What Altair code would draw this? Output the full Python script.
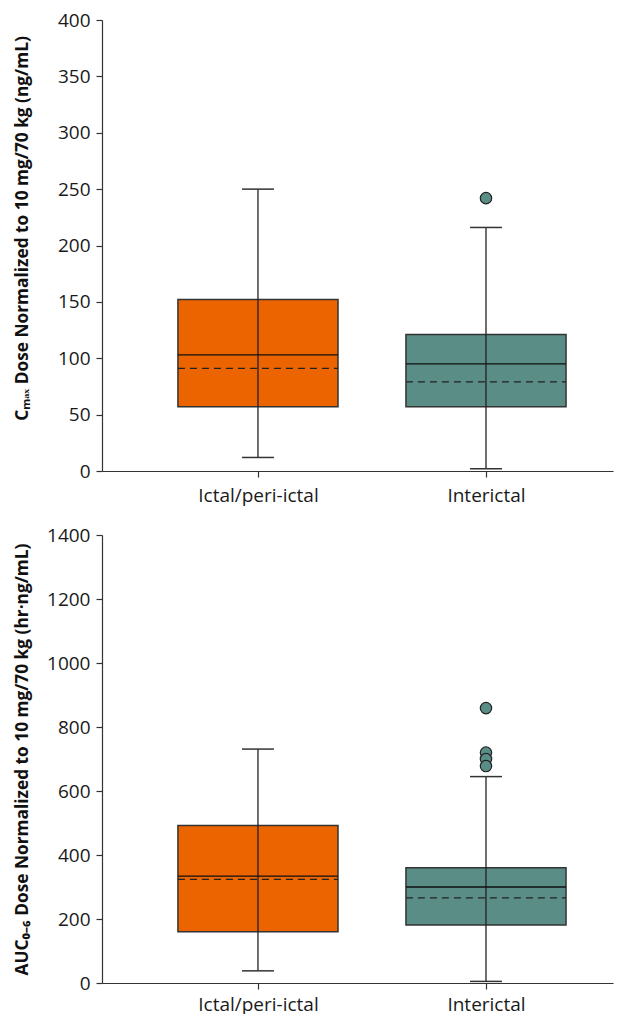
import json
import altair as alt
import pandas as pd

# ---------------- data ----------------
groups = ["Ictal/peri-ictal", "Interictal"]
colors = ["#EB6400", "#598D86"]

cmax_min = [12, 2]
cmax_q1 = [57, 57]
cmax_median = [103, 95]
cmax_mean = [91, 79]
cmax_q3 = [152, 121]
cmax_max = [250, 216]
cmax_outlier_group = ["Interictal"]
cmax_outlier_value = [242]

auc_min = [38, 5]
auc_q1 = [160, 181]
auc_median = [334, 300]
auc_mean = [324, 266]
auc_q3 = [492, 360]
auc_max = [731, 645]
auc_outlier_group = ["Interictal", "Interictal", "Interictal", "Interictal"]
auc_outlier_value = [859, 720, 700, 678]

cmax_title = "Cₘₐₓ Dose Normalized to 10 mg/70 kg (ng/mL)"
auc_title = "AUC₀₋₆ Dose Normalized to 10 mg/70 kg (hr·ng/mL)"

# ---------------- layout constants ----------------
FONT = "Open Sans"
BOX_HALF = 0.351
CAP_HALF = 0.07
X_DOMAIN = [-0.684, 1.557]
W = 511

label_expr = " : ".join(
    [f"datum.value == {i} ? {json.dumps(g)}" for i, g in enumerate(groups[:-1])]
    + [json.dumps(groups[-1])]
)


def panel(mins, q1, med, mean, q3, maxs, og, ov, ymax, ystep, title, title_y, height,
          xlabel_pad):
    idx = list(range(len(groups)))
    stats = pd.DataFrame({
        "group": groups, "idx": idx,
        "lo": [i - BOX_HALF for i in idx], "hi": [i + BOX_HALF for i in idx],
        "clo": [i - CAP_HALF for i in idx], "chi": [i + CAP_HALF for i in idx],
        "min": mins, "q1": q1, "median": med, "mean": mean, "q3": q3, "max": maxs,
    })
    outl = pd.DataFrame({"group": og, "idx": [groups.index(g) for g in og], "value": ov})

    xscale = alt.Scale(domain=X_DOMAIN, nice=False, zero=False)
    yscale = alt.Scale(domain=[0, ymax], nice=False, zero=True)
    xaxis = alt.Axis(values=idx, labelExpr=label_expr, title=None, labelFlush=False,
                     labelPadding=xlabel_pad, tickSize=6, labelOverlap=False)
    yaxis = alt.Axis(values=list(range(0, ymax + 1, ystep)), format="d", title=title,
                     titleY=title_y, titleFont=FONT, titleFontSize=17.3, titleFontWeight="bold",
                     titleColor="#111", titlePadding=13, minExtent=58, maxExtent=58,
                     labelPadding=6, tickSize=6)
    colorscale = alt.Scale(domain=groups, range=colors)

    base = alt.Chart(stats)
    box = base.mark_rect(stroke="#333", strokeWidth=1.5).encode(
        x=alt.X("lo:Q", scale=xscale, axis=xaxis),
        x2="hi:Q",
        y=alt.Y("q1:Q", scale=yscale, axis=yaxis),
        y2="q3:Q",
        color=alt.Color("group:N", scale=colorscale, legend=None),
    )
    whisker = base.mark_rule(color="#222", strokeWidth=1.3).encode(
        x="idx:Q", y="min:Q", y2="max:Q")
    median = base.mark_rule(color="#111", strokeWidth=1.3).encode(
        x="lo:Q", x2="hi:Q", y="median:Q")
    meanl = base.mark_rule(color="#222", strokeWidth=1.3, strokeDash=[7, 5]).encode(
        x="lo:Q", x2="hi:Q", y="mean:Q")
    cap_lo = base.mark_rule(color="#333", strokeWidth=1.5).encode(
        x="clo:Q", x2="chi:Q", y="min:Q")
    cap_hi = base.mark_rule(color="#333", strokeWidth=1.5).encode(
        x="clo:Q", x2="chi:Q", y="max:Q")
    pts = alt.Chart(outl).mark_point(shape="circle", filled=True, size=130, opacity=1,
                                     stroke="#222", strokeWidth=1.2).encode(
        x="idx:Q", y="value:Q",
        fill=alt.Color("group:N", scale=colorscale, legend=None),
    )
    return alt.layer(box, whisker, median, meanl, cap_lo, cap_hi, pts).properties(
        width=W, height=height)


top = panel(cmax_min, cmax_q1, cmax_median, cmax_mean, cmax_q3, cmax_max,
            cmax_outlier_group, cmax_outlier_value, 400, 50, cmax_title, 208, 451, 9)
bottom = panel(auc_min, auc_q1, auc_median, auc_mean, auc_q3, auc_max,
               auc_outlier_group, auc_outlier_value, 1400, 200, auc_title, 224, 448, 6)

chart = alt.vconcat(top, bottom, spacing=21).properties(
    padding={"left": 5, "top": 3, "right": 5, "bottom": 0}
).configure_view(stroke=None).configure_axis(
    grid=False, domainColor="#333", tickColor="#333", domainWidth=1.2, tickWidth=1.2,
    labelFont=FONT, labelFontSize=19, labelColor="#1a1a1a",
).configure_concat(spacing=21)

chart.save("out.html", embed_options={"renderer": "svg", "actions": False})
